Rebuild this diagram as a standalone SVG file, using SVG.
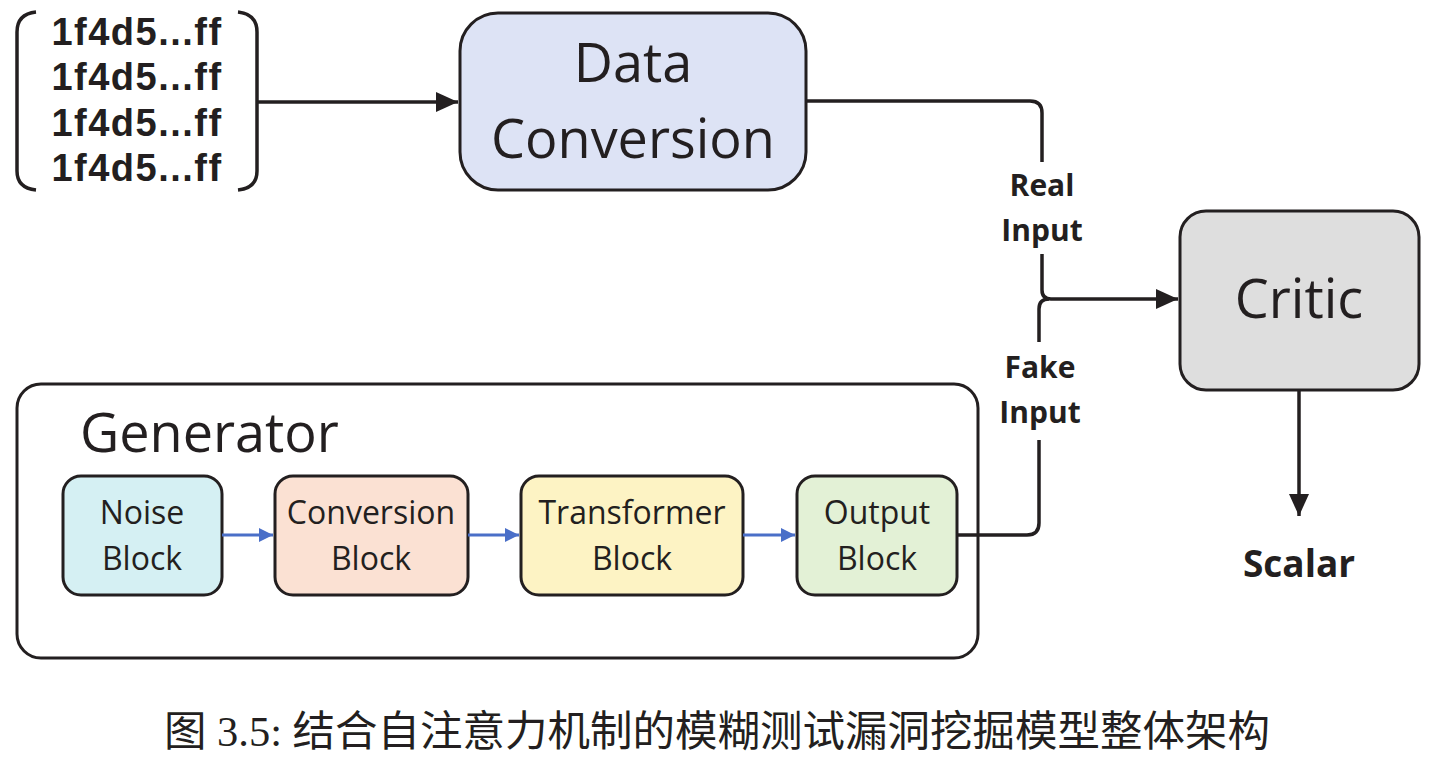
<svg xmlns="http://www.w3.org/2000/svg" width="1429" height="770" viewBox="0 0 1429 770">
<defs>
<style>
.box{stroke:#231f20;stroke-width:3}
.t{font-family:"Open Sans","Liberation Sans",sans-serif;fill:#231f20;text-anchor:middle}
.b{font-weight:bold}
.ln{fill:none;stroke:#231f20;stroke-width:3.5}
.bl{fill:none;stroke:#4a6fc8;stroke-width:3}
.hx{font-family:"Liberation Sans",Arial,sans-serif;font-weight:bold;fill:#231f20;text-anchor:middle;letter-spacing:1.5px}
</style>
<marker id="ah" markerUnits="userSpaceOnUse" markerWidth="24" markerHeight="22" refX="22" refY="11" orient="auto"><path d="M0,1 L22,11 L0,21 Z" fill="#231f20"/></marker>
<marker id="ab" markerUnits="userSpaceOnUse" markerWidth="16" markerHeight="16" refX="14" refY="8" orient="auto"><path d="M0,1 L14,8 L0,15 Z" fill="#4a6fc8"/></marker>
</defs>
<rect width="1429" height="770" fill="#fff"/>

<g id="input-data">
<path class="ln" d="M36,12 Q17,14 17,32 V171 Q17,188 36,190" stroke-width="3"/>
<path class="ln" d="M238,12 Q257,14 257,32 V171 Q257,188 238,190" stroke-width="3"/>
<g class="hx" font-size="38">
<text x="137" y="45">1f4d5...ff</text>
<text x="137" y="90">1f4d5...ff</text>
<text x="137" y="136">1f4d5...ff</text>
<text x="137" y="181">1f4d5...ff</text>
</g>
</g>

<g id="data-conversion">
<rect class="box" x="460" y="13" width="346" height="177" rx="38" fill="#dde3f5"/>
<text class="t" x="633" y="82" font-size="54">Data</text>
<text class="t" x="633" y="158" font-size="54">Conversion</text>
</g>

<g id="critic">
<rect class="box" x="1180" y="211" width="239" height="179" rx="26" fill="#dedede"/>
<text class="t" x="1299" y="318" font-size="54">Critic</text>
</g>

<g id="scalar">
<text class="t b" x="1299" y="577" font-size="37">Scalar</text>
</g>

<g id="generator">
<rect class="box" x="17" y="384" width="961" height="274" rx="24" fill="#fff"/>
<text class="t" x="80" y="452" font-size="54" style="text-anchor:start">Generator</text>
</g>

<g id="noise-block">
<rect class="box" x="63" y="476" width="159" height="119" rx="18" fill="#d5f0f3"/>
<text class="t" x="142" y="524" font-size="32">Noise</text>
<text class="t" x="142" y="570" font-size="32">Block</text>
</g>
<g id="conversion-block">
<rect class="box" x="275" y="476" width="193" height="119" rx="18" fill="#fbe1d3"/>
<text class="t" x="371" y="524" font-size="32">Conversion</text>
<text class="t" x="371" y="570" font-size="32">Block</text>
</g>
<g id="transformer-block">
<rect class="box" x="521" y="476" width="222" height="119" rx="18" fill="#fdf3c4"/>
<text class="t" x="632" y="524" font-size="32">Transformer</text>
<text class="t" x="632" y="570" font-size="32">Block</text>
</g>
<g id="output-block">
<rect class="box" x="797" y="476" width="160" height="119" rx="18" fill="#e3f1d6"/>
<text class="t" x="877" y="524" font-size="32">Output</text>
<text class="t" x="877" y="570" font-size="32">Block</text>
</g>

<g id="connectors">
<path class="ln" d="M257,102 H458" stroke-width="5" marker-end="url(#ah)"/>
<path class="ln" d="M806,101 H1030 Q1042,101 1042,113 V162"/>
<path class="ln" d="M1042,254 V290 Q1042,299 1051,299 H1178" marker-end="url(#ah)"/>
<path class="ln" d="M1039,342 V309 Q1039,299 1049,299"/>
<path class="ln" d="M957,535 H1027 Q1039,535 1039,523 V440"/>
<path class="ln" d="M1299,390 V516" stroke-width="4.5" marker-end="url(#ah)"/>
<path class="bl" d="M222,535 H273" marker-end="url(#ab)"/>
<path class="bl" d="M468,535 H519" marker-end="url(#ab)"/>
<path class="bl" d="M743,535 H795" marker-end="url(#ab)"/>
<g class="t b" font-size="30">
<text x="1042" y="196">Real</text>
<text x="1042" y="241">Input</text>
<text x="1040" y="378">Fake</text>
<text x="1040" y="423">Input</text>
</g>
</g>

<text x="717" y="746" font-size="42.5" text-anchor="middle" fill="#231f20" font-family="'Liberation Serif','Noto Sans CJK SC',serif">图 3.5: 结合自注意力机制的模糊测试漏洞挖掘模型整体架构</text>
</svg>
